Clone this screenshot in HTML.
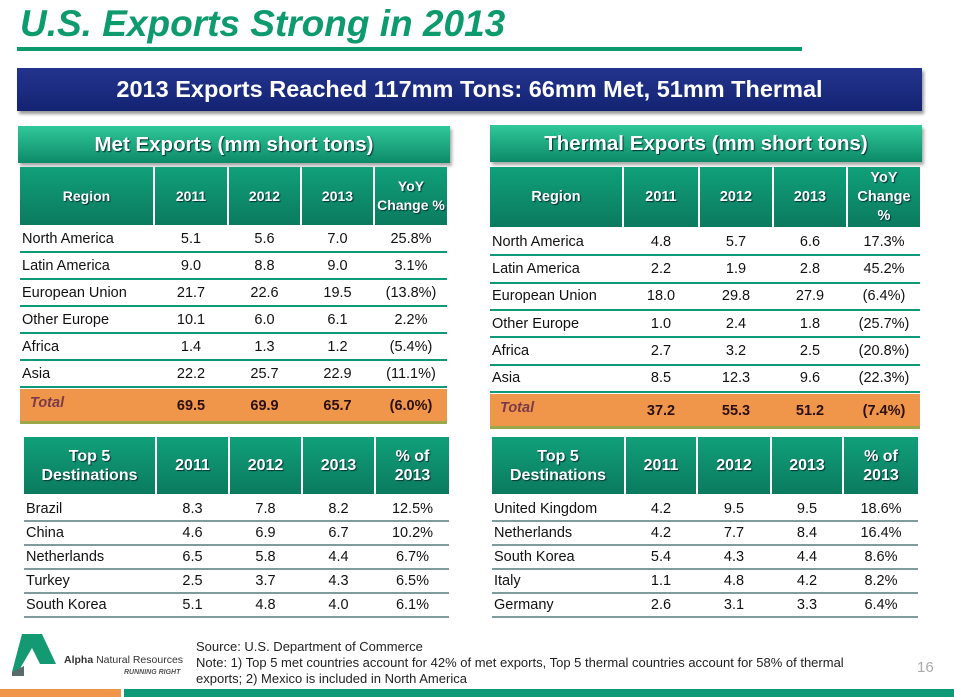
<!DOCTYPE html>
<html><head><meta charset="utf-8">
<style>
body{margin:0;width:954px;height:697px;position:relative;background:#fff;overflow:hidden;font-family:"Liberation Sans",sans-serif}
.a{position:absolute}
.hdr{background:linear-gradient(#10a07a,#0b7a5e);color:#fff;font-weight:bold;display:flex;align-items:center;justify-content:center;text-align:center;font-size:14px;line-height:19px;text-shadow:1px 1px 1px #033}
.cell{position:absolute;font-size:14.5px;color:#111;line-height:20px}
.line{position:absolute;height:2px;background:#0e9a78}
.line2{position:absolute;height:2px;background:#7f9b9b}
</style></head><body>
<div class="a" style="left:20px;top:3px;font-size:37px;font-weight:bold;font-style:italic;color:#0d9a6c">U.S. Exports Strong in 2013</div>
<div class="a" style="left:17px;top:47px;width:785px;height:4px;background:#0d9a6c"></div>
<div class="a" style="left:17px;top:68px;width:905px;height:43px;background:linear-gradient(#23348e,#142372);box-shadow:2px 3px 3px #999;color:#fff;font-weight:bold;font-size:23.5px;display:flex;align-items:center;justify-content:center">2013 Exports Reached 117mm Tons: 66mm Met, 51mm Thermal</div>
<div class="a hdr" style="left:18px;top:126px;width:432px;height:37px;font-size:20.5px;background:linear-gradient(#30c89a,#0d8a68);box-shadow:2px 3px 3px #aaa">Met Exports (mm short tons)</div>
<div class="a hdr" style="left:490px;top:125px;width:432px;height:37px;font-size:20.5px;background:linear-gradient(#30c89a,#0d8a68);box-shadow:2px 3px 3px #aaa">Thermal Exports (mm short tons)</div>
<div id="tables"></div>
<div class="a" style="left:10px;top:634px;width:50px;height:42px">
<svg width="50" height="42"><polygon points="12,0 32,0 46,30 30,30 22,14 8,38 2,38" fill="#149a72"/><polygon points="2,38 14,32 14,42 2,42" fill="#5a6b6b"/></svg></div>
<div class="a" style="left:64px;top:654px;font-size:10.5px;color:#333"><b>Alpha</b> Natural Resources</div>
<div class="a" style="left:124px;top:669px;font-size:7px;font-style:italic;font-weight:bold;color:#555">RUNNING RIGHT</div>
<div class="a" style="left:196px;top:639px;font-size:13px;line-height:16px;color:#222">Source: U.S. Department of Commerce<br>Note: 1) Top 5 met countries account for 42% of met exports, Top 5 thermal countries account for 58% of thermal<br>exports; 2) Mexico is included in North America</div>
<div class="a" style="left:917px;top:659px;font-size:15px;color:#aaa">16</div>
<div class="a" style="left:0;top:689px;width:121px;height:8px;background:#f0964a"></div>
<div class="a" style="left:124px;top:689px;width:830px;height:8px;background:#0e9a78"></div>
<script>
const regions=["North America","Latin America","European Union","Other Europe","Africa","Asia"];
const met2011=["5.1","9.0","21.7","10.1","1.4","22.2"];
const met2012=["5.6","8.8","22.6","6.0","1.3","25.7"];
const met2013=["7.0","9.0","19.5","6.1","1.2","22.9"];
const metYoy=["25.8%","3.1%","(13.8%)","2.2%","(5.4%)","(11.1%)"];
const metTotal=["69.5","69.9","65.7","(6.0%)"];
const th2011=["4.8","2.2","18.0","1.0","2.7","8.5"];
const th2012=["5.7","1.9","29.8","2.4","3.2","12.3"];
const th2013=["6.6","2.8","27.9","1.8","2.5","9.6"];
const thYoy=["17.3%","45.2%","(6.4%)","(25.7%)","(20.8%)","(22.3%)"];
const thTotal=["37.2","55.3","51.2","(7.4%)"];
const metDest=["Brazil","China","Netherlands","Turkey","South Korea"];
const metD2011=["8.3","4.6","6.5","2.5","5.1"];
const metD2012=["7.8","6.9","5.8","3.7","4.8"];
const metD2013=["8.2","6.7","4.4","4.3","4.0"];
const metDPct=["12.5%","10.2%","6.7%","6.5%","6.1%"];
const thDest=["United Kingdom","Netherlands","South Korea","Italy","Germany"];
const thD2011=["4.2","4.2","5.4","1.1","2.6"];
const thD2012=["9.5","7.7","4.3","4.8","3.1"];
const thD2013=["9.5","8.4","4.4","4.2","3.3"];
const thDPct=["18.6%","16.4%","8.6%","8.2%","6.4%"];
const root=document.getElementById('tables');
function mk(cls,css,txt){const d=document.createElement('div');d.className=cls;d.style.cssText=css;if(txt!==undefined)d.innerHTML=txt;root.appendChild(d);return d;}
function table(pfx,cols,hTop,hH,heads,rowTop,rowH,labels,series,lineCls,total,hfs){
  heads.forEach((h,i)=>{const c=cols[i];
    const el=mk('a hdr',`left:${c[0]}px;top:${hTop}px;width:${c[1]-c[0]}px;height:${hH}px;font-size:${hfs}px`,h);
    
    });
  labels.forEach((lab,r)=>{const y=rowTop+r*rowH;
    const row=[lab].concat(series.map(s=>s[r]));
    row.forEach((v,i)=>{const c=cols[i];
      const el=mk('cell',`left:${c[0]+(i?0:2)}px;top:${y+(rowH-20)/2}px;width:${c[1]-c[0]}px;text-align:${i?'center':'left'}`,v);
      
      });
    const ln=mk(lineCls,`left:${cols[0][0]}px;top:${y+rowH-1}px;width:${cols[4][1]-cols[0][0]}px`);
    
    
  });
  if(total){const y=rowTop+labels.length*rowH+2;
    const bg=mk('a',`left:${cols[0][0]}px;top:${y}px;width:${cols[4][1]-cols[0][0]}px;height:32px;background:#f0964a;border-bottom:3px solid #9aa84a`);
    
    
    const tl=mk('cell',`left:${cols[0][0]+10}px;top:${y+4}px;font-style:italic;font-weight:bold;color:#7a3a4a`,'Total');
    
    
    total.forEach((v,i)=>{const c=cols[i+1];
      const el=mk('cell',`left:${c[0]}px;top:${y+7}px;width:${c[1]-c[0]}px;text-align:center;font-weight:bold;color:#2a1010`,v);
      
      });
  }
}
const mc=[[20,153],[155,227],[229,300],[302,373],[375,447]];
const tc=[[490,622],[624,698],[700,772],[774,846],[848,920]];
const mc2=[[24,155],[157,228],[230,301],[303,374],[376,449]];
const tc2=[[492,624],[626,696],[698,770],[772,842],[844,918]];
table('met',mc,167,58,['Region','2011','2012','2013','YoY<br>Change %'],225,27,regions,[met2011,met2012,met2013,metYoy],'line',metTotal,14);
table('thermal',tc,167,60,['Region','2011','2012','2013','YoY<br>Change<br>%'],228,27.3,regions,[th2011,th2012,th2013,thYoy],'line',thTotal,14.5);
table('met-top5',mc2,437,57,['Top 5<br>Destinations','2011','2012','2013','% of<br>2013'],497,24,metDest,[metD2011,metD2012,metD2013,metDPct],'line2',null,16);
table('thermal-top5',tc2,437,57,['Top 5<br>Destinations','2011','2012','2013','% of<br>2013'],497,24,thDest,[thD2011,thD2012,thD2013,thDPct],'line2',null,16);
</script>
</body></html>
